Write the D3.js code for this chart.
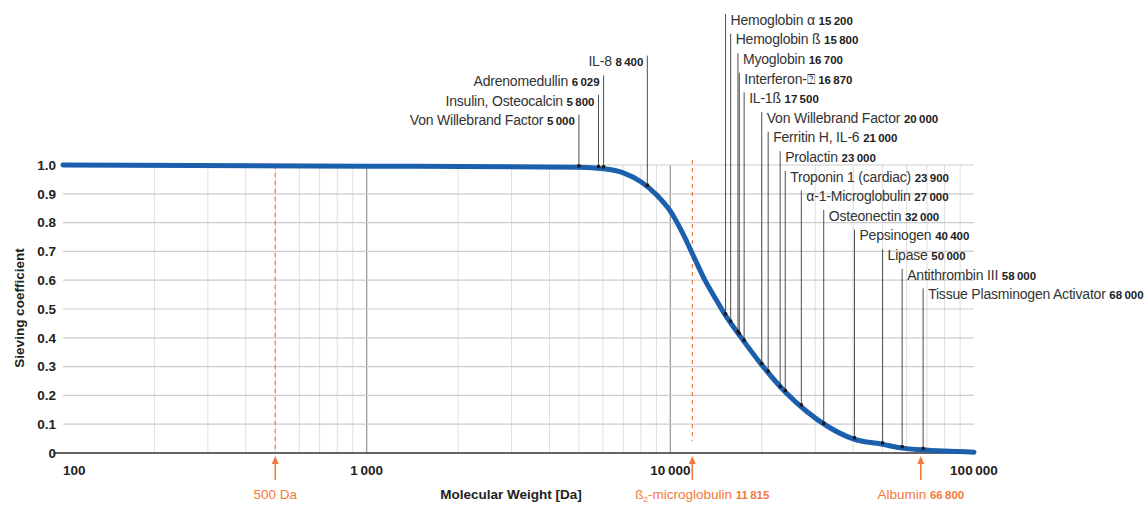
<!DOCTYPE html>
<html><head><meta charset="utf-8">
<script src="https://cdn.jsdelivr.net/npm/d3@7"></script>
<style>
html,body{margin:0;padding:0;background:#fff;}
text{font-family:"Liberation Sans",Arial,Helvetica,sans-serif;}
</style></head>
<body>
<svg id="chart" width="1146" height="505"></svg>
<script>
// ---------------- data ----------------
const curveMW = [100, 1000, 3000, 5000, 6000, 7000, 8000, 9000, 10000, 11000, 12000, 13000, 14000, 15000, 17000, 20000, 24000, 28000, 33000, 40000, 50000, 58000, 67000, 100000];
const curveSC = [1.0, 0.996, 0.994, 0.992, 0.987, 0.973, 0.942, 0.897, 0.84, 0.762, 0.677, 0.600, 0.541, 0.487, 0.405, 0.306, 0.21, 0.146, 0.092, 0.049, 0.030, 0.017, 0.011, 0.003];

const proteinNames = ["Von Willebrand Factor", "Insulin, Osteocalcin", "Adrenomedullin", "IL-8",
  "Hemoglobin α", "Hemoglobin ß", "Myoglobin", "Interferon-\u2370", "IL-1ß", "Von Willebrand Factor",
  "Ferritin H, IL-6", "Prolactin", "Troponin 1 (cardiac)", "α-1-Microglobulin", "Osteonectin",
  "Pepsinogen", "Lipase", "Antithrombin III", "Tissue Plasminogen Activator"];
const proteinMW = [5000, 5800, 6029, 8400, 15200, 15800, 16700, 16870, 17500, 20000, 21000, 23000, 23900, 27000, 32000, 40400, 50000, 58000, 68000];
const proteinSC = [0.992, 0.990, 0.989, 0.925, 0.478, 0.453, 0.417, 0.410, 0.387, 0.306, 0.279, 0.226, 0.212, 0.162, 0.098, 0.048, 0.030, 0.017, 0.011];

const markerNames = ["500 Da", "ß", "Albumin"];
const markerMW = [500, 11815, 66800];
const markerShowValue = [false, true, true];

const xTicks = [100, 1000, 10000, 100000];
const yTicks = [0, 0.1, 0.2, 0.3, 0.4, 0.5, 0.6, 0.7, 0.8, 0.9, 1.0];
const xTitle = "Molecular Weight [Da]";
const yTitle = "Sieving coefficient";

// ---------------- layout ----------------
const plotLeft = 63, plotRight = 974, plotTop = 165, plotBottom = 453;
const BLUE = "#1c5fad", ORANGE = "#f27a3d";

const svg = d3.select("#chart");
const x = d3.scaleLog().domain([100, 100000]).range([plotLeft, plotRight]);
const y = d3.scaleLinear().domain([0, 1]).range([plotBottom, plotTop]);
const fmt = d3.formatLocale({decimal: ".", thousands: "\u2009", grouping: [3], currency: ["", ""]}).format(",");
const yfmt = d => d === 0 ? "0" : d3.format(".1f")(d);

// vertical grid lines
const minor = [];
for (let dec = 100; dec < 100000; dec *= 10) for (let k = 1; k < 10; k++) minor.push(dec * k);
svg.append("g").selectAll("line").data(minor.filter(v => v > 100)).join("line")
  .attr("x1", d => x(d)).attr("x2", d => x(d)).attr("y1", y(1)).attr("y2", y(0))
  .attr("stroke", d => (d === 1000 || d === 10000) ? "#9c9c9c" : "#dedede")
  .attr("stroke-width", d => (d === 1000 || d === 10000) ? 1.3 : 1);

// horizontal grid lines
svg.append("g").selectAll("line").data(yTicks.filter(d => d > 0)).join("line")
  .attr("x1", plotLeft).attr("x2", plotRight).attr("y1", d => y(d)).attr("y2", d => y(d))
  .attr("stroke", "#cccccc").attr("stroke-width", 1.2);

// y tick labels
svg.append("g").selectAll("text").data(yTicks).join("text")
  .attr("x", 56).attr("y", d => y(d)).attr("dy", "0.36em")
  .attr("text-anchor", "end").attr("font-size", 13.5).attr("font-weight", "bold").attr("fill", "#222")
  .text(yfmt);

// dashed marker lines
svg.append("line").attr("x1", x(markerMW[0])).attr("x2", x(markerMW[0]))
  .attr("y1", y(1)).attr("y2", y(0))
  .attr("stroke", ORANGE).attr("stroke-width", 1.2).attr("stroke-dasharray", "4,4");
svg.append("line").attr("x1", x(markerMW[1])).attr("x2", x(markerMW[1]))
  .attr("y1", y(1) - 5).attr("y2", y(0) - 12)
  .attr("stroke", ORANGE).attr("stroke-width", 1.2).attr("stroke-dasharray", "4,4");

// x axis line
svg.append("line").attr("x1", 53).attr("x2", plotRight).attr("y1", y(0)).attr("y2", y(0))
  .attr("stroke", "#333").attr("stroke-width", 1.6);

// x tick labels
svg.append("g").selectAll("text").data(xTicks).join("text")
  .attr("x", d => x(d)).attr("y", 470).attr("dy", "0.36em")
  .attr("text-anchor", (d, i) => i === 0 ? "start" : "middle")
  .attr("font-size", 13.5).attr("font-weight", "bold").attr("fill", "#222")
  .text(d => fmt(d));

// axis titles
svg.append("text").attr("x", 511).attr("y", 494).attr("dy", "0.36em").attr("text-anchor", "middle")
  .attr("font-size", 13.5).attr("font-weight", "bold").attr("fill", "#222").text(xTitle);
svg.append("text").attr("transform", "translate(19,308) rotate(-90)").attr("dy", "0.36em")
  .attr("text-anchor", "middle").attr("font-size", 13.5).attr("font-weight", "bold").attr("fill", "#222").text(yTitle);

// curve
const curveData = curveMW.map((m, i) => ({mw: m, sc: curveSC[i]}));
svg.append("path").datum(curveData)
  .attr("d", d3.line().x(d => x(d.mw)).y(d => y(d.sc)).curve(d3.curveMonotoneX))
  .attr("fill", "none").attr("stroke", BLUE).attr("stroke-width", 5).attr("stroke-linecap", "round");

// protein annotations
const proteins = proteinNames.map((n, i) => ({name: n, mw: proteinMW[i], sc: proteinSC[i]}));
const leftGroup = proteins.filter(p => p.mw < 10000).sort((a, b) => b.mw - a.mw);
const rightGroup = proteins.filter(p => p.mw >= 10000).sort((a, b) => a.mw - b.mw);
const rowY = r => 19 + r * 19.6;
leftGroup.forEach((p, i) => { p.cy = rowY(i + 2) + 2.5; p.side = "left"; });
rightGroup.forEach((p, i) => { p.cy = rowY(i); p.side = "right"; });
const all = leftGroup.concat(rightGroup);

const ann = svg.append("g");
ann.selectAll("line").data(all).join("line")
  .attr("x1", d => x(d.mw)).attr("x2", d => x(d.mw))
  .attr("y1", d => d.cy - 5).attr("y2", d => y(d.sc) - 1.5)
  .attr("stroke", "#3a3a3a").attr("stroke-width", 0.9);
ann.selectAll("rect").data(all).join("rect")
  .attr("x", d => x(d.mw) - 1.6).attr("y", d => y(d.sc) - 3).attr("width", 3.2).attr("height", 3.2)
  .attr("fill", "#1a1a1a");
const lbl = ann.selectAll("text").data(all).join("text")
  .attr("x", d => d.side === "left" ? x(d.mw) - 4 : x(d.mw) + 5)
  .attr("y", d => d.cy).attr("dy", "0.36em")
  .attr("text-anchor", d => d.side === "left" ? "end" : "start")
  .attr("fill", "#333");
lbl.append("tspan").attr("font-size", 14).attr("letter-spacing", -0.2).text(d => d.name + " ");
lbl.append("tspan").attr("font-size", 11.5).attr("font-weight", "bold").attr("fill", "#222").text(d => fmt(d.mw));

// orange markers: arrows and labels
markerMW.forEach((m, i) => {
  const mx = x(m);
  svg.append("line").attr("x1", mx).attr("x2", mx).attr("y1", 463).attr("y2", 480)
    .attr("stroke", ORANGE).attr("stroke-width", 1.6);
  svg.append("path").attr("d", `M${mx},456 L${mx - 3.5},464 L${mx + 3.5},464 Z`).attr("fill", ORANGE);
  const t = svg.append("text").attr("x", i === 1 ? mx + 10 : mx).attr("y", 494).attr("dy", "0.36em")
    .attr("text-anchor", "middle").attr("fill", ORANGE).attr("font-size", 13.5);
  t.append("tspan").text(markerNames[i]);
  if (i === 1) {
    t.append("tspan").attr("font-size", 8).attr("dy", 3).text("2");
    t.append("tspan").attr("dy", -3).text("-microglobulin ");
  } else if (markerShowValue[i]) {
    t.append("tspan").text(" ");
  }
  if (markerShowValue[i]) t.append("tspan").attr("font-size", 11.5).attr("font-weight", "bold").text(fmt(m));
});
</script>
</body></html>
